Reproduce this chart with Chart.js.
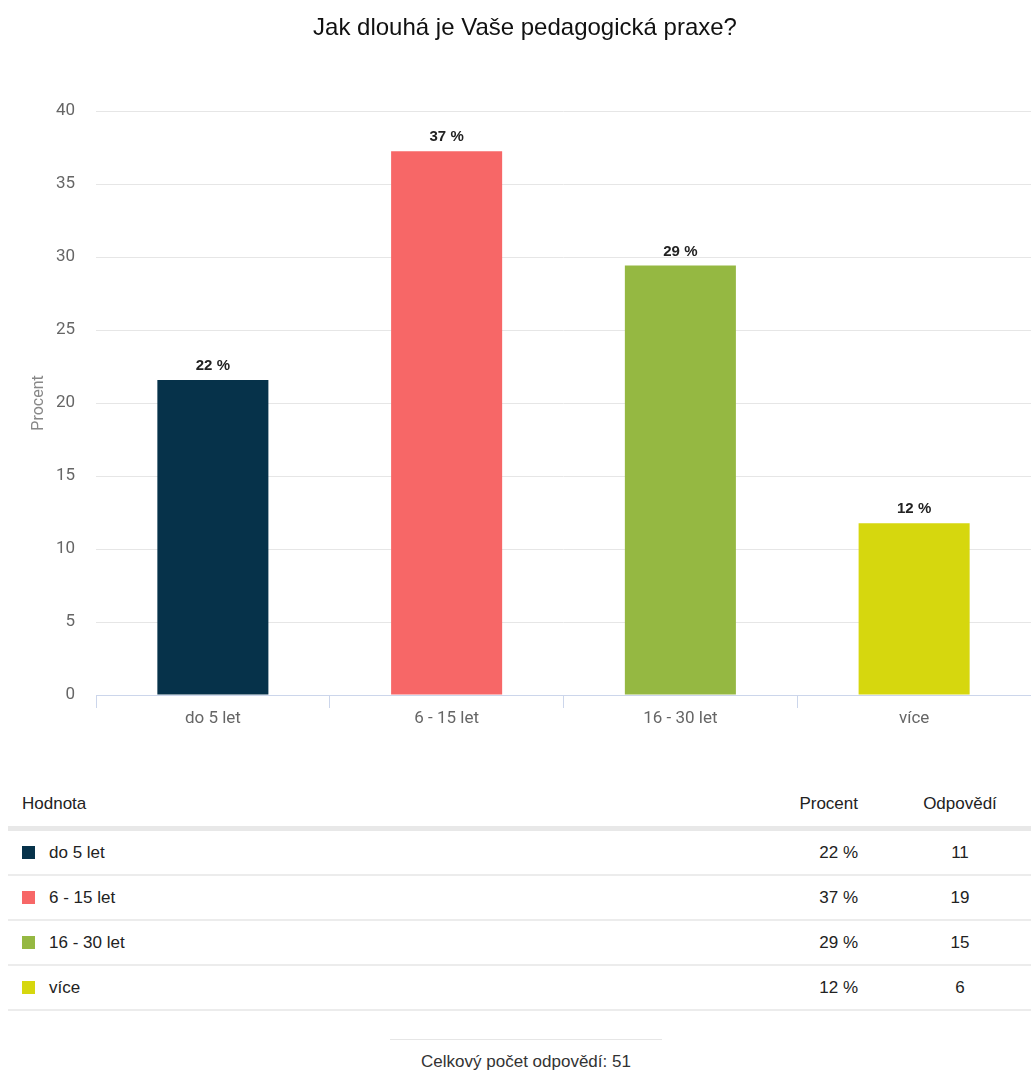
<!DOCTYPE html>
<html lang="cs">
<head>
<meta charset="utf-8">
<title>Jak dlouhá je Vaše pedagogická praxe?</title>
<script src="https://cdn.jsdelivr.net/npm/chart.js@4.4.1/dist/chart.umd.min.js"></script>
<style>
  html, body { margin: 0; padding: 0; background: #fff; }
  body { width: 1031px; font-family: "Liberation Sans", Arial, sans-serif; color: #222; }
  #chartBox { position: relative; width: 1031px; height: 750px; }
  table.results { position: absolute; left: 8px; top: 782px; width: 1023px; border-collapse: collapse; font-size: 17px; }
  table.results th { font-weight: normal; text-align: left; height: 44px; padding: 0; border-bottom: 5px solid #e8e8e8; }
  table.results td { height: 43px; padding: 0; border-bottom: 2px solid #ececec; }
  .c-name { padding-left: 14px !important; }
  .c-pct { text-align: right !important; width: 120px; padding-right: 31px !important; }
  .c-cnt { text-align: center !important; width: 142px; }
  .sw { display: inline-block; width: 13px; height: 13px; margin-right: 14px; vertical-align: -1px; }
  .total { position: absolute; left: 390px; top: 1039px; width: 272px; border-top: 1px solid #e6e6e6;
           text-align: center; font-size: 17px; padding-top: 12px; color: #333; }
</style>
</head>
<body>
<div id="chartBox"><canvas id="chart" width="1031" height="750"></canvas></div>
<table class="results" id="results">
  <thead><tr><th class="c-name" style="padding-left:12px">Hodnota</th><th class="c-pct">Procent</th><th class="c-cnt">Odpovědí</th></tr></thead>
  <tbody></tbody>
</table>
<div class="total" id="total"></div>
<script>
// Answer categories, counts and percentages
const categories = ['do 5 let', '6 - 15 let', '16 - 30 let', 'více'];
const answerCounts = [11, 19, 15, 6];
const percentValues = [21.57, 37.25, 29.41, 11.76];
const percentLabels = ['22 %', '37 %', '29 %', '12 %'];
const barColors = ['#06324a', '#f76767', '#95b842', '#d6d70e'];
const yTicks = [0, 5, 10, 15, 20, 25, 30, 35, 40];
const totalAnswers = 51;
const chartTitle = 'Jak dlouhá je Vaše pedagogická praxe?';

// Question title, drawn slightly right of the canvas centre
const questionTitle = {
  id: 'questionTitle',
  afterDraw(chart) {
    const ctx = chart.ctx;
    ctx.save();
    ctx.font = '24px "Liberation Sans", Arial, sans-serif';
    ctx.fillStyle = '#111';
    ctx.textAlign = 'center';
    ctx.textBaseline = 'middle';
    ctx.fillText(chartTitle, 525, 28);
    ctx.restore();
  }
};

// Value labels above each bar
const barLabels = {
  id: 'barLabels',
  afterDatasetsDraw(chart) {
    const ctx = chart.ctx;
    const meta = chart.getDatasetMeta(0);
    ctx.save();
    ctx.font = 'bold 15px "Liberation Sans", Arial, sans-serif';
    ctx.fillStyle = '#222';
    ctx.textAlign = 'center';
    ctx.textBaseline = 'middle';
    meta.data.forEach((bar, i) => {
      ctx.fillText(percentLabels[i], bar.x, bar.y - 14);
    });
    ctx.restore();
  }
};

new Chart(document.getElementById('chart'), {
  type: 'bar',
  data: {
    labels: categories,
    datasets: [{
      data: percentValues,
      backgroundColor: barColors,
      borderWidth: 0,
      barPercentage: 0.475,
      categoryPercentage: 1
    }]
  },
  plugins: [barLabels, questionTitle],
  options: {
    responsive: false,
    animation: false,
    layout: { padding: { left: 0, right: 0, top: 111, bottom: 0 } },
    plugins: {
      legend: { display: false },
      tooltip: { enabled: false },
      title: { display: false }
    },
    scales: {
      x: {
        offset: true,
        grid: {
          display: true,
          offset: true,
          drawOnChartArea: false,
          drawTicks: true,
          tickLength: 13,
          color: '#ccd6eb'
        },
        border: { display: true, color: '#ccd6eb', width: 1 },
        ticks: {
          color: '#666',
          padding: 1,
          font: { family: 'Roboto, "Liberation Sans", sans-serif', size: 17 }
        },
        afterFit(scale) { scale.height = 55; }
      },
      y: {
        min: 0,
        max: 40,
        afterBuildTicks(scale) { scale.ticks = yTicks.map(v => ({ value: v })); },
        grid: { color: '#e6e6e6', drawTicks: false },
        border: { display: false },
        ticks: {
          color: '#666',
          padding: 21,
          font: { family: 'Roboto, "Liberation Sans", sans-serif', size: 17 }
        },
        title: {
          display: true,
          text: 'Procent',
          color: '#888',
          font: { family: 'Roboto, "Liberation Sans", sans-serif', size: 16 },
          padding: { top: 29, bottom: 0 }
        },
        afterFit(scale) { scale.width = 96; }
      }
    }
  }
});

// Results table built from the same arrays
const tbody = document.querySelector('#results tbody');
categories.forEach((name, i) => {
  const tr = document.createElement('tr');
  tr.innerHTML =
    '<td class="c-name"><span class="sw" style="background:' + barColors[i] + '"></span>' + name + '</td>' +
    '<td class="c-pct">' + percentLabels[i] + '</td>' +
    '<td class="c-cnt">' + answerCounts[i] + '</td>';
  tbody.appendChild(tr);
});
document.getElementById('total').textContent = 'Celkový počet odpovědí: ' + totalAnswers;
</script>
</body>
</html>
